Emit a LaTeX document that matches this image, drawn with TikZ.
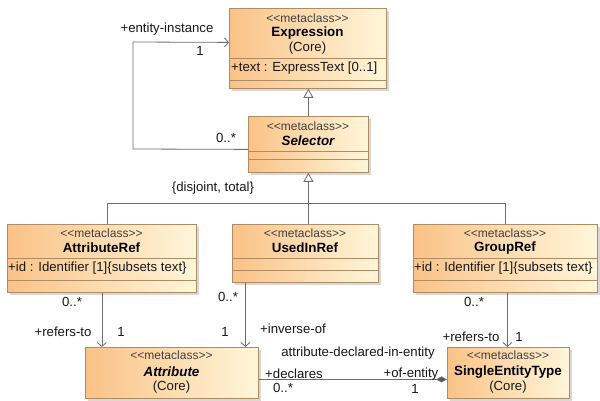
\documentclass[tikz,border=0pt]{standalone}
\usepackage{fontspec}
\setmainfont{Liberation Sans}
\usetikzlibrary{arrows.meta,shadows}
\definecolor{boxL}{HTML}{FAC287}
\definecolor{boxR}{HTML}{FFF6DA}
\definecolor{boxB}{HTML}{B08C64}
\definecolor{lineC}{HTML}{6E6E6E}
\newcommand{\stereo}{<{}<metaclass>{}>}
\tikzset{
  cls/.style={draw=boxB, line width=0.8pt, left color=boxL, right color=boxR,
    drop shadow={shadow xshift=2.5pt, shadow yshift=-2.5pt, fill=black!30, opacity=0.5},
    inner sep=0pt, anchor=north west},
  sepl/.style={draw=boxB, line width=0.7pt},
  txt/.style={inner sep=0pt, font=\fontsize{13.2}{14}\selectfont, text=black!90},
  ster/.style={inner sep=0pt, font=\fontsize{12}{13}\selectfont, text=black!75},
  bname/.style={inner sep=0pt, font=\fontsize{13.4}{14}\selectfont\bfseries, text=black},
  biname/.style={inner sep=0pt, font=\fontsize{13.4}{14}\selectfont\bfseries\itshape, text=black},
  conn/.style={draw=lineC, line width=0.8pt},
  gen/.style={conn, -{Triangle[open, length=9pt, width=10pt, fill=white]}},
  nav/.style={conn, -{Straight Barb[length=4pt, width=9pt]}},
  comp/.style={conn, -{Diamond[length=11pt, width=6pt, fill=black!65]}},
}
\begin{document}
\begin{tikzpicture}[x=1pt,y=-1pt]
\useasboundingbox[fill=white] (0,0) rectangle (600,401);

% Expression
\node[cls, minimum width=157pt, minimum height=80pt] (expr) at (229,8) {};
\draw[sepl] (229,58) -- (386,58);
\draw[sepl] (229,80) -- (386,80);
\node[ster] (exprS) at (307.5,18) {\stereo};
\node[bname] (exprN) at (307.5,33) {Expression};
\node[txt] (exprC) at (307.5,48) {(Core)};
\node[txt, anchor=west] (exprA) at (231,68) {+text : ExpressText [0..1]};

% Selector
\node[cls, minimum width=120pt, minimum height=56pt] (sel) at (248,116) {};
\draw[sepl] (248,151) -- (368,151);
\draw[sepl] (248,159) -- (368,159);
\node[ster] (selS) at (308,126) {\stereo};
\node[biname] (selN) at (308,141) {Selector};

% AttributeRef
\node[cls, minimum width=189pt, minimum height=68pt] (aref) at (7,224) {};
\draw[sepl] (7,258) -- (196,258);
\draw[sepl] (7,280) -- (196,280);
\node[ster] (arefS) at (101.5,233) {\stereo};
\node[bname] (arefN) at (101.5,248) {AttributeRef};
\node[txt, anchor=west] (arefA) at (8,268) {+id : Identifier [1]\{subsets text\}};

% UsedInRef
\node[cls, minimum width=146pt, minimum height=58pt] (uir) at (232,224) {};
\draw[sepl] (232,258) -- (378,258);
\draw[sepl] (232,270) -- (378,270);
\node[ster] (uirS) at (305,233) {\stereo};
\node[bname] (uirN) at (305,248) {UsedInRef};

% GroupRef
\node[cls, minimum width=184pt, minimum height=68pt] (gref) at (413,224) {};
\draw[sepl] (413,258) -- (597,258);
\draw[sepl] (413,280) -- (597,280);
\node[ster] (grefS) at (505,233) {\stereo};
\node[bname] (grefN) at (505,248) {GroupRef};
\node[txt, anchor=west] (grefA) at (414,268) {+id : Identifier [1]\{subsets text\}};

% Attribute
\node[cls, minimum width=173pt, minimum height=51pt] (attr) at (85,347) {};
\node[ster] (attrS) at (171.5,355) {\stereo};
\node[biname] (attrN) at (171.5,372) {Attribute};
\node[txt] (attrC) at (171.5,387) {(Core)};

% SingleEntityType
\node[cls, minimum width=122pt, minimum height=51pt] (set) at (447,347) {};
\node[ster] (setS) at (508,355) {\stereo};
\node[bname] (setN) at (508,372) {SingleEntityType};
\node[txt] (setC) at (508,387) {(Core)};

% connectors
\coordinate (loopA) at (133,149);
\coordinate (loopB) at (133,42);
\draw[nav] ([yshift=-5pt]sel.west) -- (loopA) -- (loopB) -- ([yshift=6pt]expr.west);
\draw[gen] (sel.north) -- (sel.north |- expr.south);

\coordinate (bus) at (0,203);
\draw[gen] (sel.south |- uir.north) -- (sel.south);
\draw[conn] ([xshift=5.5pt]aref.north) |- (gref.north |- bus) -- (gref.north);

\draw[nav] (aref.south) -- (aref.south |- attr.north);
\draw[nav] ([xshift=-60pt]uir.south) -- ([xshift=-60pt]uir.south |- attr.north);
\draw[nav] ([xshift=2pt]gref.south) -- ([xshift=2pt]gref.south |- set.north);
\draw[comp] ([yshift=-6.5pt]attr.east) -- ([yshift=-6.5pt]set.west);

% labels
\node[txt] (l1) at (167,29) {+entity-instance};
\node[txt] (l2) at (200,51) {1};
\node[txt] (l3) at (226,138) {0..*};
\node[txt] (l4) at (213,188) {\{disjoint, total\}};
\node[txt] (l5) at (72,302) {0..*};
\node[txt] (l6) at (63,332) {+refers-to};
\node[txt] (l7) at (121,332) {1};
\node[txt] (l8) at (228,297) {0..*};
\node[txt] (l9) at (225,332) {1};
\node[txt] (l10) at (293,329) {+inverse-of};
\node[txt] (l11) at (474,302) {0..*};
\node[txt] (l12) at (471,337) {+refers-to};
\node[txt] (l13) at (519,337) {1};
\node[txt] (l14) at (358,353) {attribute-declared-in-entity};
\node[txt] (l15) at (294,374) {+declares};
\node[txt] (l16) at (283,388) {0..*};
\node[txt] (l17) at (411,374) {+of-entity};
\node[txt] (l18) at (415,389) {1};
\end{tikzpicture}
\end{document}
